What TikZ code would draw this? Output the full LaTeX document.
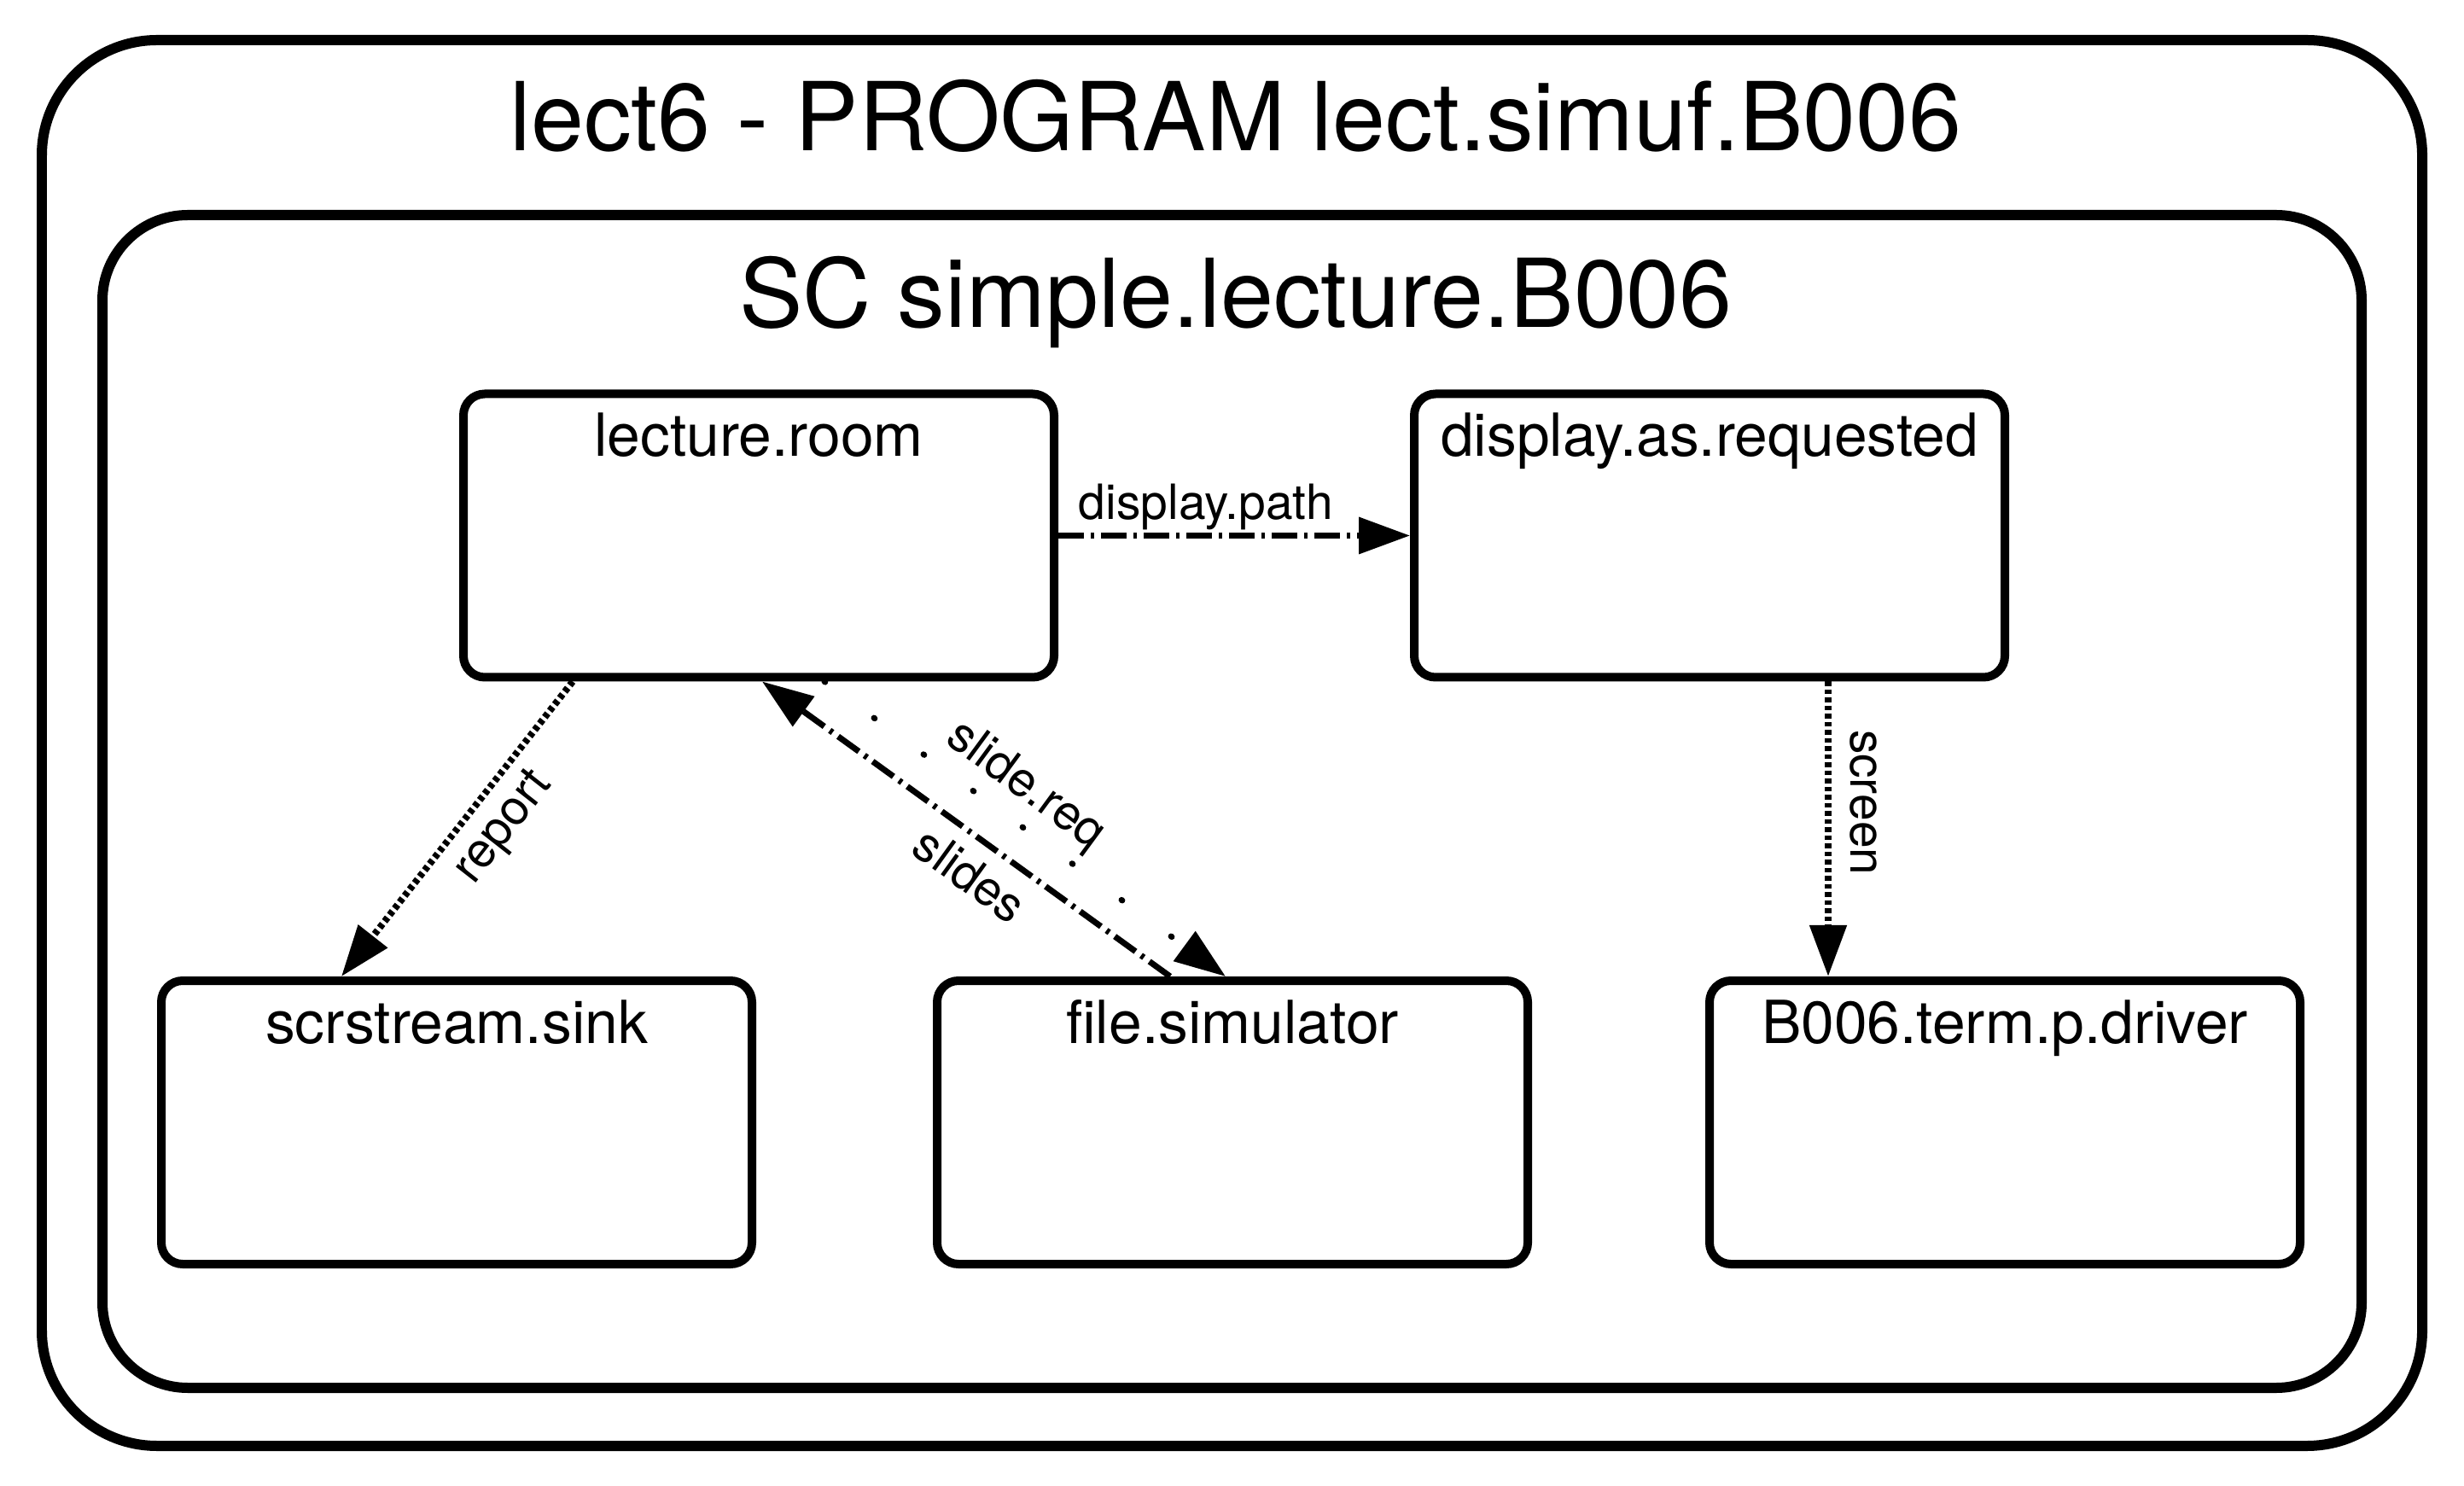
\documentclass[tikz,border=0pt]{standalone}
\usepackage{fontspec}
\setmainfont{TeX Gyre Heros}
\usepackage{tikz}
\usetikzlibrary{arrows.meta,positioning}

\begin{document}
\begin{tikzpicture}
  % Styles for frames, process boxes and flows
  \tikzset{progframe/.style={draw=black, line width=0.12cm, inner sep=0pt}}
  \tikzset{procbox/.style={draw=black, line width=0.1cm, rounded corners=0.25cm, minimum width=6.92cm, minimum height=3.32cm, inner sep=0pt}}
  \tikzset{titletext/.style={anchor=base, font=\fontsize{31.7}{36}\selectfont}}
  \tikzset{boxtext/.style={anchor=base, font=\fontsize{19.8}{23}\selectfont}}
  \tikzset{edgetext/.style={font=\fontsize{16.2}{19}\selectfont, inner sep=0pt}}
  \tikzset{flow/.style={line width=0.07cm, -{Triangle[length=0.6cm, width=0.42cm]}}}
  \tikzset{dotflow/.style={flow, line width=0.08cm, dash pattern=on 0.055cm off 0.04cm}}
  \tikzset{dashdotflow/.style={flow, dash pattern=on 0.3cm off 0.08cm on 0.04cm off 0.08cm}}
  \tikzset{sparseflow/.style={flow, line cap=round, dash pattern=on 0.01cm off 0.71cm}}

  \useasboundingbox (0,0) rectangle (28.87,17.40);

  % PROGRAM frame
  \node[progframe, rounded corners=1.35cm, minimum width=27.89cm, minimum height=16.47cm] (prog) at (14.435, 8.695) {};
  \node[titletext] (progtitle) at (14.48, 15.63) {lect6 - PROGRAM lect.simuf.B006};

  % SC frame
  \node[progframe, rounded corners=1.0cm, minimum width=26.47cm, minimum height=13.74cm] (sc) at (14.435, 8.01) {};
  \node[titletext] (sctitle) at (14.48, 13.56) {SC simple.lecture.B006};

  % upper row
  \node[procbox] (room) at (8.89, 11.125) {};
  \node[boxtext] at ([yshift=-0.78cm]room.north) {lecture.room};
  \node[procbox] (disp) at (20.03, 11.125) {};
  \node[boxtext] at ([yshift=-0.78cm]disp.north) {display.as.requested};

  % lower row
  \node[procbox] (sink) at (5.35, 4.25) {};
  \node[boxtext] at ([yshift=-0.78cm]sink.north) {scrstream.sink};
  \node[procbox] (fsim) at (14.44, 4.25) {};
  \node[boxtext] at ([yshift=-0.78cm]fsim.north) {file.simulator};
  \node[procbox] (drv) at (23.49, 4.25) {};
  \node[boxtext] at ([yshift=-0.78cm]drv.north) {B006.term.p.driver};

  % flows
  \draw[dashdotflow] (room.east) -- (disp.west)
    node[edgetext, pos=0.42, anchor=base, yshift=0.19cm] {display.path};
  \draw[dotflow] ([xshift=-2.18cm]room.south) -- ([xshift=-1.35cm]sink.north)
    node[edgetext, pos=0.42, sloped, below=0.14cm] {report};
  \draw[dashdotflow] ([xshift=-0.73cm]fsim.north) -- ([xshift=0.04cm]room.south)
    node[edgetext, pos=0.44, sloped, below=0.16cm] {slides};
  \draw[sparseflow] ([xshift=0.77cm]room.south) -- ([xshift=-0.08cm]fsim.north)
    node[edgetext, pos=0.45, sloped, above=0.1cm] {slide.req};
  \draw[dotflow] ([xshift=1.39cm]disp.south) -- ([xshift=1.39cm]disp.south |- drv.north)
    node[edgetext, pos=0.41, sloped, above=0.22cm] {screen};
\end{tikzpicture}
\end{document}
